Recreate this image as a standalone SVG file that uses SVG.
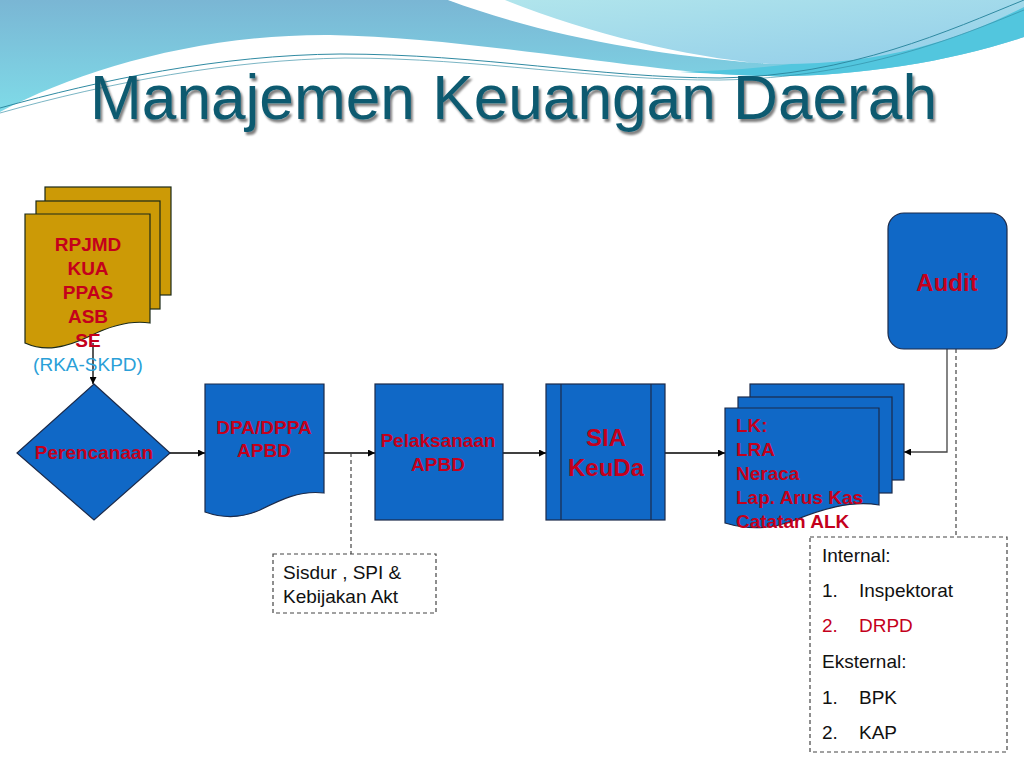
<svg xmlns="http://www.w3.org/2000/svg" width="1024" height="768" viewBox="0 0 1024 768">
<defs>
<linearGradient id="gTop" x1="0" y1="0" x2="0" y2="1">
<stop offset="0" stop-color="#7ab6d4"/>
<stop offset="1" stop-color="#7fdbe8"/>
</linearGradient>
<linearGradient id="gPale" x1="0" y1="0" x2="1" y2="1">
<stop offset="0" stop-color="#b2e6ec"/>
<stop offset="1" stop-color="#92cde9"/>
</linearGradient>
<filter id="shadow" x="-5%" y="-20%" width="110%" height="150%">
<feDropShadow dx="2" dy="3" stdDeviation="1.2" flood-color="#000" flood-opacity="0.5"/>
</filter>
<marker id="arr" viewBox="0 0 10 10" refX="10" refY="5" markerWidth="7" markerHeight="7" orient="auto" markerUnits="userSpaceOnUse">
<path d="M0,0 L10,5 L0,10 Z" fill="#000"/>
</marker>
</defs>
<style>
.blue{fill:#1068c6;stroke:#1b2a4a;stroke-width:1.2}
.gold{fill:#cc9a06;stroke:#1b2a1a;stroke-width:1.2}
.lbl{font-family:"Liberation Sans",Arial,sans-serif;font-weight:bold;fill:#c4001c;font-size:19px}
.big{font-size:24px}
.txt{font-family:"Liberation Sans",Arial,sans-serif;fill:#111;font-size:19px}
.red{fill:#c4001c}
.conn{fill:none;stroke:#000;stroke-width:1.3}
.dash{fill:none;stroke:#444;stroke-width:1.2;stroke-dasharray:4,3}
.mid{text-anchor:middle}
</style>
<rect width="1024" height="768" fill="#fff"/>
<g id="background">
<path d="M0,0 H1024 V37 C950,62 850,78 760,76 C650,74 480,38 330,35 C200,34 80,70 0,112 Z" fill="url(#gTop)"/>
<path d="M680,72 C790,70 930,48 1024,7 V37 C950,62 850,78 760,76 Z" fill="#52c6de"/>
<path d="M448,0 C560,32 660,56 770,64 C880,66 960,40 1024,7 V0 Z" fill="url(#gPale)"/>
<path d="M448,0 C540,34 650,55 770,64 C690,58 590,34 505,0 Z" fill="#fff"/>
<path d="M0,108 C100,80 220,55 340,54 C480,54 600,78 720,78 C850,76 950,30 1024,0" fill="none" stroke="#2f8aa2" stroke-width="1"/>
<path d="M0,113 C110,82 230,60 345,58 C480,58 600,81 720,80 C860,78 960,36 1024,10" fill="none" stroke="#2f8aa2" stroke-width="0.8" opacity="0.8"/>
</g>
<text x="90" y="119" font-family="'Liberation Sans',Arial,sans-serif" font-size="63" fill="#0d5a70" filter="url(#shadow)" textLength="847" lengthAdjust="spacingAndGlyphs">Manajemen Keuangan Daerah</text>
<g id="connectors">
<line class="conn" x1="93" y1="343" x2="93" y2="384" marker-end="url(#arr)"/>
<line class="conn" x1="170" y1="453" x2="205" y2="453" marker-end="url(#arr)"/>
<line class="conn" x1="324" y1="453" x2="375" y2="453" marker-end="url(#arr)"/>
<line class="conn" x1="503" y1="453" x2="546" y2="453" marker-end="url(#arr)"/>
<line class="conn" x1="665" y1="453" x2="725" y2="453" marker-end="url(#arr)"/>
<polyline class="conn" points="947,349 947,452 904,452" style="stroke:#444" marker-end="url(#arr)"/>
<line class="dash" x1="351" y1="453" x2="351" y2="554"/>
<line class="dash" x1="956" y1="349" x2="956" y2="537"/>
</g>
<g id="docs-rpjmd">
<rect class="gold" x="45" y="187" width="126" height="108"/>
<rect class="gold" x="36" y="201" width="124" height="108"/>
<path class="gold" d="M25,214 H150 V323 C130,320 110,326 90,336 C65,348 45,352 25,343 Z"/>
<text class="lbl mid" x="88" y="251">RPJMD</text>
<text class="lbl mid" x="88" y="275">KUA</text>
<text class="lbl mid" x="88" y="299">PPAS</text>
<text class="lbl mid" x="88" y="323">ASB</text>
<text class="lbl mid" x="88" y="347">SE</text>
<text class="mid" x="88" y="371" font-family="'Liberation Sans',Arial,sans-serif" font-size="19" fill="#2a9fd8">(RKA-SKPD)</text>
</g>
<g id="perencanaan">
<polygon class="blue" points="94,384 170,453 94,520 17,453"/>
<text class="lbl mid" x="94" y="459">Perencanaan</text>
</g>
<g id="dpa">
<path class="blue" d="M205,384 H324 V493 C300,490 280,500 260,510 C240,519 222,518 205,512 Z"/>
<text class="lbl mid" x="264" y="434">DPA/DPPA</text>
<text class="lbl mid" x="264" y="457">APBD</text>
</g>
<g id="pelaksanaan">
<rect class="blue" x="375" y="384" width="128" height="136"/>
<text class="lbl mid" x="438" y="447">Pelaksanaan</text>
<text class="lbl mid" x="438" y="471">APBD</text>
</g>
<g id="sia">
<rect class="blue" x="546" y="384" width="119" height="136"/>
<line x1="561" y1="384" x2="561" y2="520" stroke="#1b2a4a" stroke-width="1.2"/>
<line x1="651" y1="384" x2="651" y2="520" stroke="#1b2a4a" stroke-width="1.2"/>
<text class="lbl mid big" x="606" y="446">SIA</text>
<text class="lbl mid big" x="606" y="476">KeuDa</text>
</g>
<g id="lk">
<rect class="blue" x="750" y="384" width="154" height="96"/>
<rect class="blue" x="738" y="397" width="154" height="96"/>
<path class="blue" d="M725,408 H879 V505 C850,500 820,510 795,520 C770,530 745,529 725,523 Z"/>
<text class="lbl" x="736" y="432">LK:</text>
<text class="lbl" x="736" y="456">LRA</text>
<text class="lbl" x="736" y="480">Neraca</text>
<text class="lbl" x="736" y="504">Lap. Arus Kas</text>
<text class="lbl" x="736" y="528">Catatan ALK</text>
</g>
<g id="audit">
<rect class="blue" x="888" y="213" width="119" height="136" rx="16" ry="16"/>
<text class="lbl mid big" x="947" y="291">Audit</text>
</g>
<g id="sisdur">
<rect class="dash" x="273" y="554" width="163" height="59"/>
<text class="txt" x="283" y="579">Sisdur , SPI &amp;</text>
<text class="txt" x="283" y="603">Kebijakan Akt</text>
</g>
<g id="auditors">
<rect class="dash" x="810" y="537" width="197" height="215"/>
<text class="txt" x="822" y="562">Internal:</text>
<text class="txt" x="822" y="597">1.</text>
<text class="txt" x="859" y="597">Inspektorat</text>
<text class="txt red" x="822" y="632">2.</text>
<text class="txt red" x="859" y="632">DRPD</text>
<text class="txt" x="822" y="668">Eksternal:</text>
<text class="txt" x="822" y="704">1.</text>
<text class="txt" x="859" y="704">BPK</text>
<text class="txt" x="822" y="739">2.</text>
<text class="txt" x="859" y="739">KAP</text>
</g>
</svg>
